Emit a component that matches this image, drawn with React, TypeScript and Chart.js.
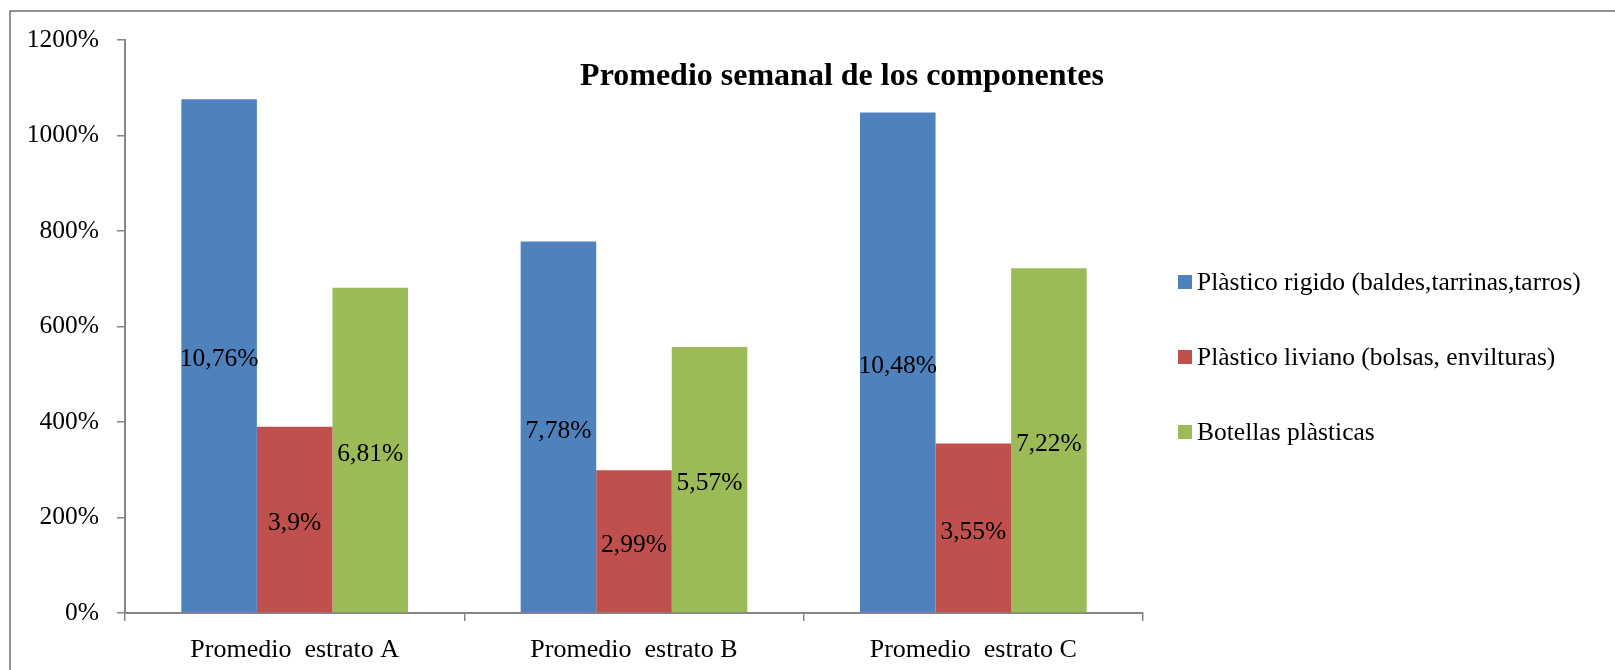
import React, { useEffect, useRef } from "react";
import { Chart, registerables } from "chart.js";

Chart.register(...registerables);

const categories = ["Promedio  estrato A", "Promedio  estrato B", "Promedio  estrato C"];
const seriesNames = [
  "Plàstico rigido (baldes,tarrinas,tarros)",
  "Plàstico liviano (bolsas, envilturas)",
  "Botellas plàsticas",
];
const rigido = [1076, 778, 1048];
const liviano = [390, 299, 355];
const botellas = [681, 557, 722];
const rigidoLabels = ["10,76%", "7,78%", "10,48%"];
const livianoLabels = ["3,9%", "2,99%", "3,55%"];
const botellasLabels = ["6,81%", "5,57%", "7,22%"];
const colors = ["#4F81BD", "#C0504D", "#9BBB59"];
const titleText = "Promedio semanal de los componentes";
const yTicksMax = 1200;
const yStep = 200;

const FONT = "'Liberation Serif', 'Times New Roman', serif";

const decorPlugin = {
  id: "decor",
  beforeDraw(chart: any) {
    const ctx = chart.ctx;
    ctx.save();
    ctx.fillStyle = "#ffffff";
    ctx.fillRect(0, 0, chart.width, chart.height);
    ctx.strokeStyle = "#5a5a5a";
    ctx.lineWidth = 1.3;
    ctx.strokeRect(10, 11, chart.width + 20, chart.height + 20);
    ctx.restore();
  },
  afterDatasetsDraw(chart: any) {
    const ctx = chart.ctx;
    const labelSets = [rigidoLabels, livianoLabels, botellasLabels];
    ctx.save();
    ctx.font = `25.5px ${FONT}`;
    ctx.fillStyle = "#000000";
    ctx.textAlign = "center";
    ctx.textBaseline = "middle";
    chart.data.datasets.forEach((ds: any, di: number) => {
      const meta = chart.getDatasetMeta(di);
      meta.data.forEach((el: any, i: number) => {
        const p = el.getProps(["x", "y", "base"], true);
        ctx.fillText(labelSets[di][i], p.x, (p.y + p.base) / 2 + 4);
      });
    });
    // title
    ctx.font = `bold 32px ${FONT}`;
    ctx.textBaseline = "alphabetic";
    ctx.textAlign = "center";
    ctx.fillText(titleText, 842, 85);
    // legend
    ctx.font = `25.5px ${FONT}`;
    ctx.textAlign = "left";
    ctx.textBaseline = "middle";
    const rows = [282, 357, 432];
    chart.data.datasets.forEach((ds: any, di: number) => {
      ctx.fillStyle = ds.backgroundColor;
      ctx.fillRect(1178, rows[di] - 7, 14, 14);
      ctx.fillStyle = "#000000";
      ctx.fillText(ds.label, 1197, rows[di] + 1);
    });
    ctx.restore();
  },
};

export default function App() {
  const ref = useRef<HTMLCanvasElement | null>(null);
  useEffect(() => {
    if (!ref.current) return;
    const chart = new Chart(ref.current, {
      type: "bar",
      data: {
        labels: categories,
        datasets: [
          { label: seriesNames[0], data: rigido, backgroundColor: colors[0] },
          { label: seriesNames[1], data: liviano, backgroundColor: colors[1] },
          { label: seriesNames[2], data: botellas, backgroundColor: colors[2] },
        ],
      },
      options: {
        animation: false,
        responsive: false,
        devicePixelRatio: 1,
        layout: { padding: { left: 0, right: 472, top: 40, bottom: 0 } },
        datasets: { bar: { categoryPercentage: 0.668, barPercentage: 1.0 } },
        plugins: {
          legend: { display: false },
          title: { display: false },
          tooltip: { enabled: false },
        },
        scales: {
          x: {
            afterFit(scale: any) {
              scale.height = 57;
            },
            grid: {
              display: true,
              offset: true,
              drawOnChartArea: false,
              drawTicks: true,
              tickLength: 8,
              color: "#868686",
              lineWidth: 1.5,
            },
            border: { display: true, color: "#868686", width: 2 },
            ticks: {
              color: "#000000",
              font: { family: FONT, size: 26 },
              padding: 14,
              maxRotation: 0,
            },
          },
          y: {
            min: 0,
            max: yTicksMax,
            afterFit(scale: any) {
              scale.width = 125;
            },
            grid: {
              display: true,
              drawOnChartArea: false,
              drawTicks: true,
              tickLength: 8,
              color: "#868686",
              lineWidth: 1.5,
            },
            border: { display: true, color: "#868686", width: 2 },
            ticks: {
              stepSize: yStep,
              color: "#000000",
              font: { family: FONT, size: 25.5 },
              padding: 18,
              callback: (v: any) => `${v}%`,
            },
          },
        },
      },
      plugins: [decorPlugin],
    });
    return () => chart.destroy();
  }, []);
  return (
    <div style={{ position: "absolute", left: 0, top: 0, width: 1615, height: 670 }}>
      <canvas ref={ref} width={1615} height={670} style={{ display: "block" }} />
    </div>
  );
}
